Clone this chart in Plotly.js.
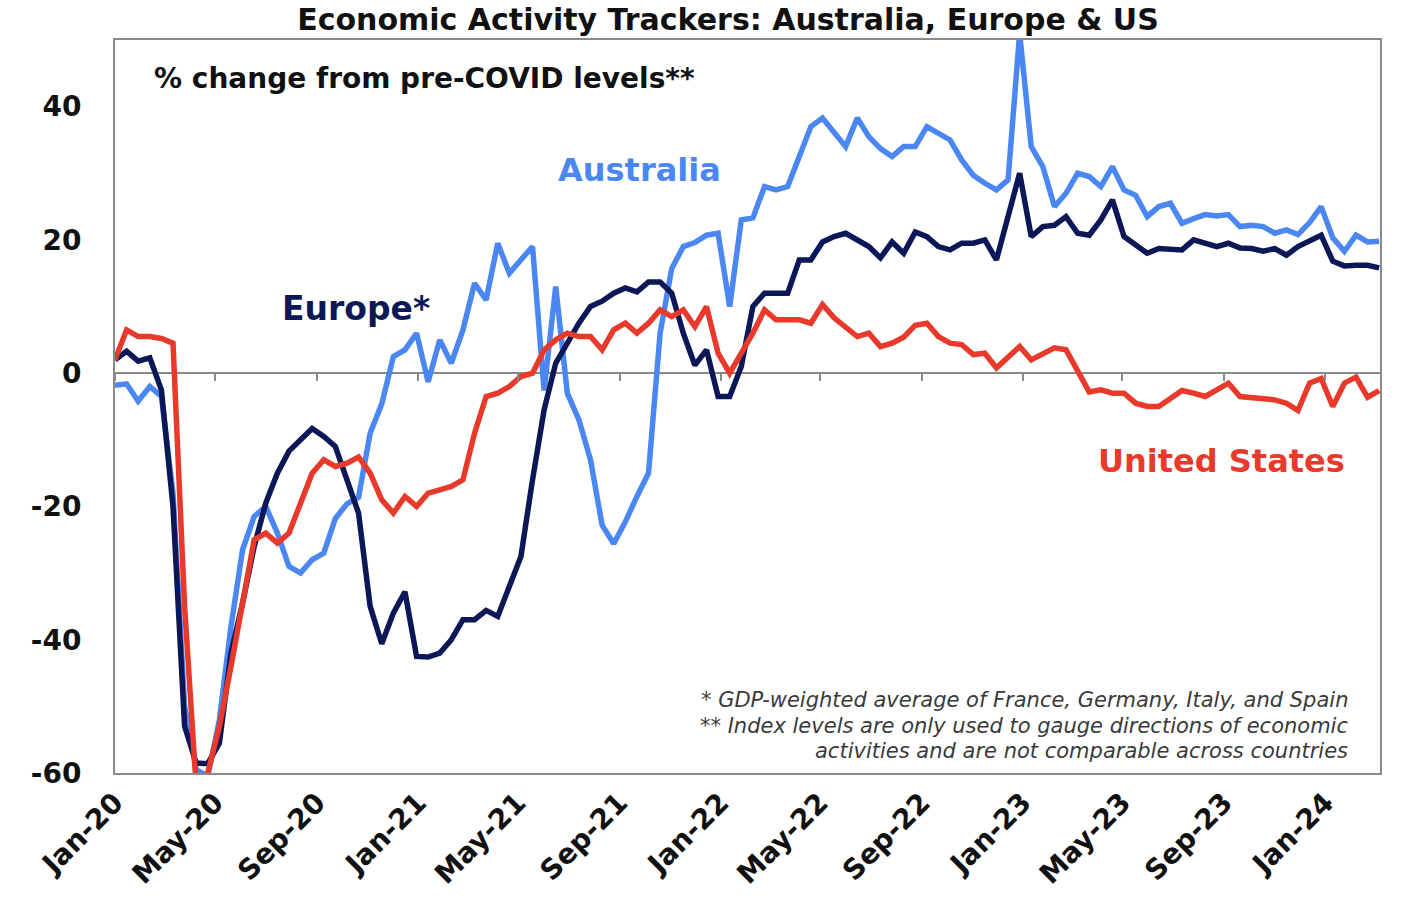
<!DOCTYPE html>
<html>
<head>
<meta charset="utf-8">
<script src="https://cdn.plot.ly/plotly-3.0.1.min.js"></script>
<style>
  html, body { margin: 0; padding: 0; background: #fff; }
  #chart { width: 1404px; height: 905px; }
</style>
</head>
<body>
<div id="chart"></div>
<script>
// fortnightly readings, first one on 1 Jan 2020
const startDate = "2020-01-01";
const stepDays = 14;

const australia = [
    -1.8, -1.6, -4.2, -2, -3.5, -18, -50, -59.5, -60.5, -52,
    -38, -26.5, -21.5, -20, -24, -29, -30, -28, -27, -21.8,
    -19.6, -18.6, -9, -4.6, 2.5, 3.5, 6, -1.3, 5, 1.5,
    6.5, 13.5, 11, 19.5, 15, 17, 19, -2.6, 13, -3,
    -7, -13, -22.8, -25.6, -22.3, -18.5, -15, 6, 15.7, 19,
    19.6, 20.7, 21, 10, 23, 23.3, 28, 27.5, 28, 32.5,
    37, 38.3, 36, 34, 38.3, 35.5, 33.7, 32.5, 34, 34,
    37, 36, 35, 32, 29.7, 28.5, 27.5, 29, 51, 34,
    31, 25, 27, 30, 29.5, 28, 31, 27.5, 26.7, 23.5,
    25, 25.5, 22.5, 23.2, 23.8, 23.6, 23.8, 22, 22.2, 22,
    21, 21.5, 20.8, 22.6, 25, 20.3, 18.3, 20.7, 19.7, 19.8
];

const europe = [
    2, 3.3, 1.8, 2.3, -2.5, -20, -53, -58.5, -58.6, -55.5,
    -42, -34.5, -26, -19.5, -15, -11.7, -10, -8.3, -9.5, -11,
    -16, -21, -35, -40.6, -36, -32.8, -42.5, -42.6, -42, -40,
    -37, -37, -35.6, -36.5, -32, -27.5, -16, -5.5, 1.5, 4.5,
    7.5, 10, 10.8, 12, 12.8, 12.2, 13.7, 13.7, 12, 6,
    1.2, 3.5, -3.5, -3.5, 1, 10, 12, 12, 12, 17,
    17, 19.7, 20.5, 21, 20, 19, 17.3, 19.7, 18, 21.2,
    20.5, 19, 18.5, 19.5, 19.5, 20, 17, 23.5, 30, 20.5,
    22, 22.2, 23.5, 21, 20.7, 23, 26, 20.5, 19.3, 18,
    18.7, 18.5, 18.5, 20, 19.5, 19, 19.5, 18.8, 18.7, 18.3,
    18.7, 17.7, 19, 19.8, 20.7, 16.8, 16.1, 16.2, 16.2, 15.8
];

const unitedStates = [
    2, 6.5, 5.5, 5.5, 5.2, 4.5, -35, -62, -60, -53,
    -44, -35, -25, -24, -25.5, -24, -19.6, -15, -13, -14,
    -13.5, -12.6, -15, -19, -21, -18.5, -20, -18, -17.5, -17,
    -16, -9, -3.5, -3, -2, -0.5, 0, 3.5, 5, 6,
    5.5, 5.5, 3.5, 6.5, 7.5, 6, 7.5, 9.5, 8.5, 9.5,
    7, 10, 3, 0, 3, 6, 9.5, 8, 8, 8,
    7.5, 10.3, 8.3, 7, 5.5, 6, 4, 4.5, 5.4, 7.2,
    7.5, 5.5, 4.5, 4.3, 2.8, 3, 0.8, 2.4, 4, 2,
    3, 3.8, 3.5, 0.5, -2.8, -2.5, -3, -3, -4.5, -5,
    -5, -3.8, -2.6, -3, -3.5, -2.5, -1.5, -3.5, -3.6, -3.8,
    -4, -4.5, -5.6, -1.5, -0.8, -5, -1.5, -0.6, -3.6, -2.6
];

const tickDates = [
    "2020-01-01", "2020-05-01", "2020-09-01", "2021-01-01", "2021-05-01",
    "2021-09-01", "2022-01-01", "2022-05-01", "2022-09-01", "2023-01-01",
    "2023-05-01", "2023-09-01", "2024-01-01"
];
const tickLabels = [
    "Jan-20", "May-20", "Sep-20", "Jan-21", "May-21", "Sep-21", "Jan-22",
    "May-22", "Sep-22", "Jan-23", "May-23", "Sep-23", "Jan-24"
];

const xRange = ["2020-01-01", "2024-03-07"];
const yRange = [-60, 50];

const makeDates = (n) => {
    const t0 = Date.parse(startDate + "T00:00:00Z");
    let out = [];
    for (let i = 0; i < n; i++) {
        out.push(new Date(t0 + i * stepDays * 86400000).toISOString().slice(0, 10));
    }
    return out;
};

const dates = makeDates(australia.length);

const blue = "#4b87f2";
const navy = "#0b1756";
const red = "#e8392b";
const frame = "#8a8a8a";
const boldFont = "DejaVu Sans, Verdana, sans-serif";

let trace_aus = {
    name: "Australia",
    x: dates,
    y: australia,
    type: "scatter",
    mode: "lines",
    line: { color: blue, width: 5.5 },
};
let trace_eur = {
    name: "Europe",
    x: dates,
    y: europe,
    type: "scatter",
    mode: "lines",
    line: { color: navy, width: 5.5 },
};
let trace_us = {
    name: "United States",
    x: dates,
    y: unitedStates,
    xaxis: "x2",
    type: "scatter",
    mode: "lines",
    line: { color: red, width: 5.5 },
};

const note = (text, y) => ({
    text: text,
    xref: "paper", yref: "paper",
    x: 0.976, y: y,
    xanchor: "right", yanchor: "middle",
    showarrow: false,
    font: { family: boldFont, size: 21, color: "#3a3a3a", style: "italic" },
});

const label = (text, x, y, color, size) => ({
    text: text,
    xref: "paper", yref: "paper",
    x: x, y: y,
    xanchor: "center", yanchor: "middle",
    showarrow: false,
    font: { family: boldFont, size: size, color: color, weight: "bold" },
});

let layout = {
    width: 1404,
    height: 905,
    margin: { l: 115, r: 24, t: 40, b: 132 },
    paper_bgcolor: "#ffffff",
    plot_bgcolor: "#ffffff",
    showlegend: false,
    hovermode: false,
    title: {
        text: "Economic Activity Trackers: Australia, Europe &amp; US",
        x: 0.5185,
        xanchor: "center",
        y: 0.978,
        yanchor: "middle",
        font: { family: boldFont, size: 30, color: "#111111", weight: "bold" },
    },
    xaxis: {
        type: "date",
        range: xRange,
        showgrid: false,
        zeroline: false,
        showline: true,
        mirror: true,
        linecolor: frame,
        linewidth: 2,
        ticks: "",
        tickmode: "array",
        tickvals: tickDates,
        ticktext: tickLabels,
        tickangle: -45,
        tickfont: { family: boldFont, size: 28, color: "#111111", weight: "bold" },
    },
    xaxis2: {
        type: "date",
        overlaying: "x",
        anchor: "free",
        position: (0 - yRange[0]) / (yRange[1] - yRange[0]),
        range: xRange,
        showgrid: false,
        zeroline: false,
        showline: false,
        showticklabels: false,
        ticks: "outside",
        ticklen: 7,
        tickwidth: 2,
        tickcolor: frame,
        tickmode: "array",
        tickvals: tickDates,
    },
    yaxis: {
        range: yRange,
        showgrid: false,
        zeroline: true,
        zerolinecolor: frame,
        zerolinewidth: 2,
        showline: true,
        mirror: true,
        linecolor: frame,
        linewidth: 2,
        ticks: "",
        tickmode: "array",
        tickvals: [-60, -40, -20, 0, 20, 40],
        ticktext: ["-60", "-40", "-20", "0", "20", "40"],
        ticklabelstandoff: 26,
        tickfont: { family: boldFont, size: 28, color: "#111111", weight: "bold" },
    },
    annotations: [
        {
            text: "% change from pre-COVID levels**",
            xref: "paper", yref: "paper",
            x: 0.029, y: 0.947,
            xanchor: "left", yanchor: "middle",
            showarrow: false,
            font: { family: boldFont, size: 28, color: "#111111", weight: "bold" },
        },
        label("Australia", 0.415, 0.8227, blue, 32),
        label("Europe*", 0.1905, 0.634, navy, 33),
        label("United States", 0.875, 0.4256, red, 32),
        note("* GDP-weighted average of France, Germany, Italy, and Spain", 0.0996),
        note("** Index levels are only used to gauge directions of economic", 0.0641),
        note("activities and are not comparable across countries", 0.0300),
    ],
};

let config = { responsive: false, displayModeBar: false, staticPlot: true };
Plotly.newPlot("chart", [trace_aus, trace_eur, trace_us], layout, config);
</script>
</body>
</html>
